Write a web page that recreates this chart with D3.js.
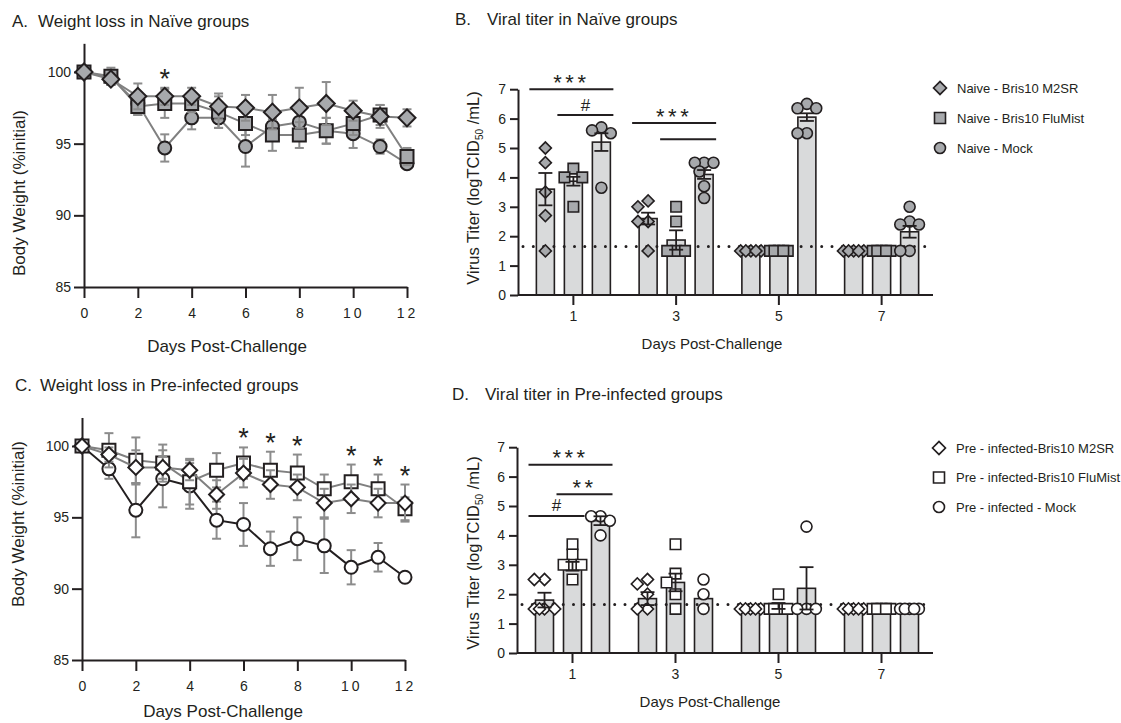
<!DOCTYPE html>
<html>
<head>
<meta charset="utf-8">
<script src="https://cdn.jsdelivr.net/npm/d3@7"></script>
<style>
body { margin: 0; background: #fff; }
text { font-family: "Liberation Sans", Arial, Helvetica, sans-serif; fill: #231f20; }
</style>
</head>
<body>
<div class="main"></div>
<script>
// ---------- data: weight loss (A, C) ----------
var wDays   = [0,1,2,3,4,5,6,7,8,9,10,11,12];
var wTicksX = [0,2,4,6,8,10,12];
var wTicksY = [85,90,95,100];

var aM2SR    = [100,99.5,98.3,98.3,98.3,97.6,97.5,97.2,97.5,97.8,97.3,96.9,96.8];
var aM2SRErr = [0,0.4,0.9,0.6,0.6,0.9,0.9,1.2,1.4,1.5,0.7,0.8,0.6];
var aFlu     = [100,99.7,97.6,97.8,97.8,97.2,96.4,95.6,95.6,95.9,96.4,97.0,94.1];
var aFluErr  = [0,0.6,0.6,1.0,0.6,1.1,0.8,1.1,0.9,0.9,0.8,0.7,0.6];
var aMock    = [100,99.6,97.8,94.7,96.8,96.8,94.8,96.2,96.5,95.9,95.7,94.8,93.6];
var aMockErr = [0,0.5,0.8,0.95,0.8,0.7,1.4,1.0,1.0,0.9,1.0,0.5,0.3];
var aStarDays = [3];

var cM2SR    = [100,99.4,98.5,98.5,98.3,96.6,98.1,97.3,97.1,96.0,96.3,96.0,96.0];
var cM2SRErr = [0,0.5,1.2,0.8,0.7,1.0,1.0,1.0,0.9,1.0,1.0,1.0,1.3];
var cFlu     = [100,99.7,99.0,98.8,97.5,98.3,98.8,98.3,98.1,97.0,97.5,97.0,95.6];
var cFluErr  = [0,1.2,1.6,1.3,1.6,1.2,1.1,1.3,1.3,1.0,1.2,1.0,0.8];
var cMock    = [100,98.4,95.5,97.7,97.2,94.8,94.5,92.8,93.5,93.0,91.5,92.2,90.8];
var cMockErr = [0,0.7,1.9,2.0,1.6,1.3,1.5,1.2,1.5,1.9,1.2,1.0,0.3];
var cStarDays = [6,7,8,10,11,12];

// ---------- data: viral titer (B, D) ----------
var tDays   = ["1","3","5","7"];
var tTicksY = [0,1,2,3,4,5,6,7];
var LOD = 1.65;

var bLegend = ["Naive - Bris10 M2SR","Naive - Bris10 FluMist","Naive - Mock"];
var bM2SRPts  = [[5.0,4.5,3.5,2.7,1.5],[3.2,3.0,2.5,2.5,1.5],[1.5,1.5,1.5,1.5,1.5],[1.5,1.5,1.5,1.5,1.5]];
var bM2SRMean = [3.6,2.6,1.5,1.5];
var bM2SRSem  = [0.55,0.2,0,0];
var bFluPts   = [[4.3,4.0,4.0,3.0],[3.0,2.5,1.5,1.5,1.5],[1.5,1.5,1.5,1.5,1.5],[1.5,1.5,1.5,1.5,1.5]];
var bFluMean  = [3.87,1.87,1.5,1.5];
var bFluSem   = [0.15,0.33,0,0];
var bMockPts  = [[5.7,5.6,5.5,3.65],[4.5,4.5,4.5,4.2,3.7,3.3],[6.5,6.35,6.35,5.5,5.5],[3.0,2.5,2.4,2.4,1.5,1.5]];
var bMockMean = [5.2,4.1,6.05,2.15];
var bMockSem  = [0.3,0.15,0.13,0.2];
// significance: [day index, from series, to series, value, label]
var bSig = [[0,0,2,7.0,"***"],[0,1,2,6.12,"#"],[1,0,2,5.85,"***"],[1,1,2,5.3,""]];

var dLegend = ["Pre - infected-Bris10 M2SR","Pre - infected-Bris10 FluMist","Pre - infected - Mock"];
var dM2SRPts  = [[2.5,2.5,1.5,1.5,1.5,1.5],[2.5,2.35,2.0,1.5,1.5],[1.5,1.5,1.5,1.5,1.5],[1.5,1.5,1.5,1.5,1.5]];
var dM2SRMean = [1.8,1.85,1.5,1.5];
var dM2SRSem  = [0.25,0.22,0,0];
var dFluPts   = [[3.7,3.35,3.0,3.0,3.0,2.5],[3.7,2.7,2.4,2.0,1.5],[2.0,1.5,1.5,1.5,1.5],[1.5,1.5,1.5,1.5,1.5]];
var dFluMean  = [2.95,2.4,1.6,1.5];
var dFluSem   = [0.15,0.3,0.1,0];
var dMockPts  = [[4.65,4.65,4.5,4.0],[2.5,2.0,1.5],[4.3,1.5,1.5,1.5],[1.5,1.5,1.5,1.5,1.5]];
var dMockMean = [4.5,1.85,2.2,1.5];
var dMockSem  = [0.15,0,0.72,0];
var dSig = [[0,0,2,6.4,"***"],[0,1,2,5.4,"**"],[0,0,1,4.66,"#"]];

// ---------- styles ----------
var FONT = '"Liberation Sans", Arial, Helvetica, sans-serif';
var ink = "#231f20", greyFill = "#a7a9ac", lineGrey = "#808080", errGrey = "#8c8c8c", barFill = "#d9dadb";

var svg = d3.select(".main").append("svg").attr("width", 1121).attr("height", 723);

function symPath(shape, px) {
    if (shape === "diamond") return d3.symbol().type(d3.symbolSquare).size(px * px / 2)();
    if (shape === "square") return d3.symbol().type(d3.symbolSquare).size(px * px)();
    return d3.symbol().type(d3.symbolCircle).size(Math.PI * px * px / 4)();
}
function marker(g, shape, x, y, px, fill, sw) {
    g.append("path").attr("d", symPath(shape, px))
        .attr("transform", "translate(" + x + "," + y + ")" + (shape === "diamond" ? " rotate(45)" : ""))
        .attr("fill", fill).attr("stroke", ink).attr("stroke-width", sw);
}
function styleAxis(g, size) {
    g.attr("font-family", FONT).attr("font-size", size).attr("color", ink);
    g.selectAll("path, line").attr("stroke-width", 2);
    g.selectAll("text").attr("fill", ink);
}

// ---------- titles ----------
function panelTitle(letter, title, x, x2, y) {
    svg.append("text").attr("x", x).attr("y", y).attr("font-size", 17).text(letter);
    svg.append("text").attr("x", x2).attr("y", y).attr("font-size", 17).text(title);
}
panelTitle("A.", "Weight loss in Naïve groups", 12, 38, 27);
panelTitle("B.", "Viral titer in Naïve groups", 455, 487, 25);
panelTitle("C.", "Weight loss in Pre-infected groups", 15, 40, 391);
panelTitle("D.", "Viral titer in Pre-infected groups", 452, 485, 400);

// ---------- weight panels ----------
function weightPanel(cfg) {
    var x = d3.scaleLinear().domain([0, 12]).range([cfg.x0, cfg.x12]);
    var ppu = (cfg.y85 - cfg.y100) / 15;
    var y = d3.scaleLinear().domain([85, 102]).range([cfg.y85, cfg.y85 - 17 * ppu]);
    var g = svg.append("g");

    var ax = g.append("g").attr("transform", "translate(0," + cfg.y85 + ")")
        .call(d3.axisBottom(x).tickValues(wTicksX).tickSize(11).tickSizeOuter(0).tickPadding(10));
    styleAxis(ax, 14);
    ax.selectAll(".tick text").filter(d => d >= 10).attr("letter-spacing", 3);
    var ay = g.append("g").attr("transform", "translate(" + cfg.x0 + ",0)")
        .call(d3.axisLeft(y).tickValues(wTicksY).tickSize(10).tickSizeOuter(0).tickPadding(3));
    styleAxis(ay, 14);

    var line = d3.line().x((d, i) => x(wDays[i])).y(d => y(d));
    cfg.series.forEach(function(s) {
        var eg = g.append("g").attr("stroke", errGrey).attr("stroke-width", 2);
        s.vals.forEach(function(v, i) {
            var e = s.errs[i];
            if (!e) return;
            var cx = x(wDays[i]);
            eg.append("line").attr("x1", cx).attr("x2", cx).attr("y1", y(v - e)).attr("y2", y(v + e));
            [v - e, v + e].forEach(function(c) {
                eg.append("line").attr("x1", cx - 4.5).attr("x2", cx + 4.5).attr("y1", y(c)).attr("y2", y(c));
            });
        });
        g.append("path").datum(s.vals).attr("d", line).attr("fill", "none")
            .attr("stroke", s.line).attr("stroke-width", 2);
        s.vals.forEach(function(v, i) {
            marker(g, s.shape, x(wDays[i]), y(v), s.size, cfg.fill, 2);
        });
    });

    cfg.stars.forEach(function(day) {
        var top = d3.max(cfg.series, s => s.vals[day] + s.errs[day]);
        g.append("text").attr("x", x(day)).attr("y", y(top))
            .attr("text-anchor", "middle").attr("font-size", 27).text("*");
    });

    g.append("text").attr("x", cfg.titleX).attr("y", cfg.titleY).attr("text-anchor", "middle")
        .attr("font-size", 17).text("Days Post-Challenge");
    g.append("text").attr("transform", "translate(" + cfg.labelX + "," + cfg.labelY + ") rotate(-90)")
        .attr("text-anchor", "middle").attr("dy", "0.35em").attr("font-size", 17).text("Body Weight (%initial)");
}

weightPanel({
    x0: 84, x12: 407, y85: 287, y100: 72, fill: greyFill, stars: aStarDays,
    titleX: 227, titleY: 352, labelX: 19, labelY: 193,
    series: [
        {vals: aMock, errs: aMockErr, shape: "circle", size: 13, line: lineGrey},
        {vals: aFlu, errs: aFluErr, shape: "square", size: 13, line: lineGrey},
        {vals: aM2SR, errs: aM2SRErr, shape: "diamond", size: 17, line: lineGrey}
    ]
});
weightPanel({
    x0: 82, x12: 405, y85: 660, y100: 446, fill: "#fff", stars: cStarDays,
    titleX: 223, titleY: 717, labelX: 18, labelY: 524,
    series: [
        {vals: cMock, errs: cMockErr, shape: "circle", size: 13, line: ink},
        {vals: cFlu, errs: cFluErr, shape: "square", size: 13, line: lineGrey},
        {vals: cM2SR, errs: cM2SRErr, shape: "diamond", size: 15, line: lineGrey}
    ]
});

// ---------- titer panels ----------
// spread points of one bar sideways so they do not sit on top of each other
function swarm(ys, size) {
    var placed = [], fb = [-0.42, 0.42, -1.1, 1.1, 0], nf = 0, lim = size * 0.85;
    return ys.map(function(y) {
        var off = [0, -lim, lim].find(c => placed.every(p => Math.abs(p.x - c) >= lim || Math.abs(p.y - y) >= lim));
        if (off === undefined) { off = fb[nf % fb.length] * size; nf++; }
        placed.push({x: off, y: y});
        return off;
    });
}

function titerPanel(cfg) {
    var xg = d3.scaleBand().domain(tDays).range([cfg.x0 + 4, cfg.x1]);
    var sub = d3.scaleBand().domain([0, 1, 2]).range([-42, 42]);
    var y = d3.scaleLinear().domain([0, 7]).range([cfg.y0, cfg.y0 - 7 * 29.4]);
    var cx = (di, si) => xg(tDays[di]) + xg.bandwidth() / 2 + sub(si) + sub.bandwidth() / 2;
    var g = svg.append("g");

    // bars
    cfg.series.forEach(function(s, si) {
        s.mean.forEach(function(m, di) {
            g.append("rect").attr("x", cx(di, si) - 9).attr("width", 18)
                .attr("y", y(m)).attr("height", y(0) - y(m))
                .attr("fill", barFill).attr("stroke", ink).attr("stroke-width", 1.6);
        });
    });

    // axes
    var ax = g.append("g").attr("transform", "translate(0," + cfg.y0 + ")")
        .call(d3.axisBottom(xg).tickSize(10).tickSizeOuter(0).tickPadding(6));
    ax.select(".domain").remove();
    styleAxis(ax, 14);
    g.append("line").attr("x1", cfg.x0).attr("x2", cfg.x1).attr("y1", cfg.y0).attr("y2", cfg.y0)
        .attr("stroke", ink).attr("stroke-width", 2);
    var ay = g.append("g").attr("transform", "translate(" + cfg.x0 + ",0)")
        .call(d3.axisLeft(y).tickValues(tTicksY).tickFormat(d3.format("d"))
            .tickSize(8).tickSizeOuter(0).tickPadding(4));
    styleAxis(ay, 14);

    // limit of detection
    g.append("line").attr("x1", cfg.x0 + 5).attr("x2", cfg.x1).attr("y1", y(LOD)).attr("y2", y(LOD))
        .attr("stroke", ink).attr("stroke-width", 3).attr("stroke-linecap", "round")
        .attr("stroke-dasharray", "0,10.3");

    // points
    cfg.series.forEach(function(s, si) {
        s.pts.forEach(function(vals, di) {
            var offs = swarm(vals.map(v => y(v)), s.size);
            vals.forEach(function(v, k) {
                marker(g, s.shape, cx(di, si) + offs[k], y(v), s.size, cfg.fill, 1.6);
            });
        });
    });

    // error bars
    cfg.series.forEach(function(s, si) {
        s.mean.forEach(function(m, di) {
            var e = s.sem[di];
            if (!e) return;
            var x0 = cx(di, si);
            g.append("line").attr("x1", x0).attr("x2", x0).attr("y1", y(m - e)).attr("y2", y(m + e))
                .attr("stroke", ink).attr("stroke-width", 1.8);
            [m - e, m + e].forEach(function(c) {
                g.append("line").attr("x1", x0 - 7).attr("x2", x0 + 7).attr("y1", y(c)).attr("y2", y(c))
                    .attr("stroke", ink).attr("stroke-width", 1.8);
            });
        });
    });

    // significance brackets
    cfg.sig.forEach(function(r) {
        var xa = cx(r[0], r[1]) - 16, xb = cx(r[0], r[2]) + 12, yy = y(r[3]);
        g.append("line").attr("x1", xa).attr("x2", xb).attr("y1", yy).attr("y2", yy)
            .attr("stroke", ink).attr("stroke-width", 2);
        if (r[4] === "#") {
            g.append("text").attr("x", (xa + xb) / 2).attr("y", yy - 4.5).attr("text-anchor", "middle")
                .attr("font-size", 17).text(r[4]);
        } else if (r[4]) {
            g.append("text").attr("x", (xa + xb) / 2).attr("y", yy + 0.5).attr("text-anchor", "middle")
                .attr("font-size", 22).attr("letter-spacing", 3.5).text(r[4]);
        }
    });

    // axis titles
    g.append("text").attr("x", cfg.titleX).attr("y", cfg.y0 + 54).attr("text-anchor", "middle")
        .attr("font-size", 15).text("Days Post-Challenge");
    var yl = g.append("text").attr("transform", "translate(" + cfg.labelX + "," + cfg.labelY + ") rotate(-90)")
        .attr("text-anchor", "middle").attr("dy", "0.35em").attr("font-size", 16.5);
    yl.append("tspan").text("Virus Titer (logTCID");
    yl.append("tspan").attr("font-size", 10).attr("dy", 4).text("50");
    yl.append("tspan").attr("dy", -4).text(" /mL)");

    // legend
    cfg.series.forEach(function(s, si) {
        var ly = cfg.legY + si * cfg.legStep;
        marker(g, s.shape, cfg.legX, ly, s.shape === "diamond" ? 13 : 11, cfg.fill, 1.6);
        g.append("text").attr("x", cfg.legX + 17).attr("y", ly).attr("dy", "0.35em")
            .attr("font-size", 13).text(cfg.legend[si]);
    });
}

titerPanel({
    x0: 518, x1: 933, y0: 295, fill: greyFill, sig: bSig, legend: bLegend,
    titleX: 712, labelX: 473, labelY: 188, legX: 940, legY: 88, legStep: 30,
    series: [
        {pts: bM2SRPts, mean: bM2SRMean, sem: bM2SRSem, shape: "diamond", size: 12},
        {pts: bFluPts, mean: bFluMean, sem: bFluSem, shape: "square", size: 10.5},
        {pts: bMockPts, mean: bMockMean, sem: bMockSem, shape: "circle", size: 11}
    ]
});
titerPanel({
    x0: 517, x1: 933, y0: 653, fill: "#fff", sig: dSig, legend: dLegend,
    titleX: 710, labelX: 473, labelY: 553, legX: 939, legY: 448, legStep: 29.5,
    series: [
        {pts: dM2SRPts, mean: dM2SRMean, sem: dM2SRSem, shape: "diamond", size: 12},
        {pts: dFluPts, mean: dFluMean, sem: dFluSem, shape: "square", size: 10.5},
        {pts: dMockPts, mean: dMockMean, sem: dMockSem, shape: "circle", size: 11}
    ]
});
</script>
</body>
</html>
